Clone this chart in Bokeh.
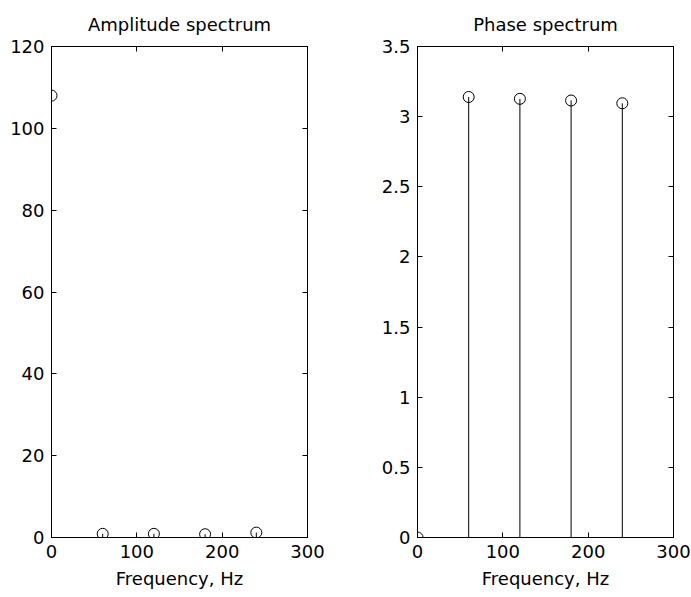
from bokeh.plotting import figure
from bokeh.layouts import row
from bokeh.models import (ColumnDataSource, Range1d, LinearAxis, FixedTicker,
                          CustomJSTickFormatter)
from bokeh.embed import file_html
from bokeh.resources import INLINE

# ---- data ----
freq = [0, 60, 120, 180, 240]
amplitude = [108.0, 0.9, 0.9, 0.8, 1.2]
phase = [0.0, 3.14, 3.127, 3.115, 3.095]

x_ticks = [0, 100, 200, 300]
amp_ticks = [0, 20, 40, 60, 80, 100, 120]
phase_ticks = [0, 0.5, 1, 1.5, 2, 2.5, 3, 3.5]

titles = ["Amplitude spectrum", "Phase spectrum"]
xlabel = "Frequency, Hz"

FONT = "DejaVu Sans"
FS = "18px"


def make(values, yticks, ymax, title, width, bl, br):
    src = ColumnDataSource(dict(f=freq, v=values))
    p = figure(width=width, height=597, output_backend="svg", toolbar_location=None,
               x_range=Range1d(0, 300), y_range=Range1d(0, ymax),
               min_border_left=bl, min_border_right=br, min_border_top=46,
               min_border_bottom=60, title=title)
    p.title.align = "center"
    p.title.text_font = FONT
    p.title.text_font_size = FS
    p.title.text_font_style = "normal"
    p.title.text_color = "black"
    p.title.standoff = 23
    p.grid.visible = False
    p.outline_line_color = "black"
    p.outline_line_width = 1
    p.background_fill_color = "white"
    p.border_fill_color = "white"
    fmt = CustomJSTickFormatter(code="return String(tick)")
    for ax, ticks in ((p.xaxis[0], x_ticks), (p.yaxis[0], yticks)):
        ax.ticker = FixedTicker(ticks=ticks)
        ax.formatter = fmt
        ax.major_tick_in = 5
        ax.major_tick_out = 0
        ax.minor_tick_line_color = None
        ax.axis_line_color = "black"
        ax.major_tick_line_color = "black"
        ax.major_label_text_font = FONT
        ax.major_label_text_font_size = FS
        ax.major_label_text_color = "black"
    p.xaxis.major_label_standoff = 7
    p.yaxis.major_label_standoff = 7
    p.xaxis.axis_label = xlabel
    p.xaxis.axis_label_text_font = FONT
    p.xaxis.axis_label_text_font_size = FS
    p.xaxis.axis_label_text_font_style = "normal"
    p.xaxis.axis_label_text_color = "black"
    p.xaxis.axis_label_standoff = 7
    for loc, ticks in (("above", x_ticks), ("right", yticks)):
        ax = LinearAxis(ticker=FixedTicker(ticks=ticks), major_tick_in=5,
                        major_tick_out=0, minor_tick_line_color=None,
                        major_label_text_font_size="0px", major_label_standoff=0,
                        major_label_text_alpha=0, axis_line_color="black")
        p.add_layout(ax, loc)
    p.segment(x0="f", y0=0, x1="f", y1="v", source=src, line_color="black", line_width=1)
    p.scatter(x="f", y="v", source=src, marker="circle", size=11,
              fill_color=None, line_color="black", line_width=1)
    return p


p1 = make(amplitude, amp_ticks, 120, titles[0], 362, 51, 55)
p2 = make(phase, phase_ticks, 3.5, titles[1], 329, 55, 18)
layout = row(p1, p2)

open("out.html", "w").write(file_html(layout, INLINE))
